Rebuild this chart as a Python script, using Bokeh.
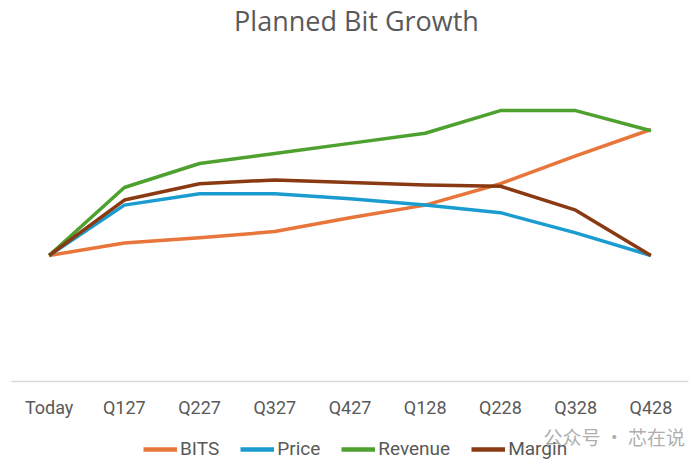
from bokeh.plotting import figure
from bokeh.models import Legend, LegendItem, Range1d, Label
from bokeh.layouts import column
from bokeh.embed import file_html
from bokeh.resources import INLINE

categories = ["Today", "Q127", "Q227", "Q327", "Q427", "Q128", "Q228", "Q328", "Q428"]
bits = [1.00, 1.10, 1.14, 1.19, 1.30, 1.40, 1.57, 1.79, 2.00]
price = [1.00, 1.40, 1.49, 1.49, 1.45, 1.40, 1.34, 1.18, 1.00]
revenue = [1.00, 1.54, 1.73, 1.81, 1.89, 1.97, 2.15, 2.15, 1.99]
margin = [1.00, 1.44, 1.57, 1.60, 1.58, 1.56, 1.55, 1.36, 1.00]
series_names = ["BITS", "Price", "Revenue", "Margin"]
colors = ["#E8753A", "#1A9CD0", "#4EA12F", "#8A3A12"]
title_text = "Planned Bit Growth"
watermark_text = "公众号 · 芯在说"
series = [bits, price, revenue, margin]

W = 700
p = figure(x_range=categories, y_range=Range1d(0, 3.024), width=W, height=420,
           output_backend="svg", toolbar_location=None,
           min_border_left=11, min_border_right=12, min_border_top=0, min_border_bottom=39)
p.title = None

for ys, c in zip(series, colors):
    p.line(categories, ys, line_color=c, line_width=3.5, line_join="round")

p.add_layout(Label(x=345, y=361, x_units="screen", y_units="screen", text=title_text,
                   text_font="Open Sans", text_font_size="27px", text_color="#595959",
                   text_align="center", text_baseline="alphabetic"))

p.yaxis.visible = False
p.xgrid.visible = False
p.ygrid.visible = False
p.outline_line_color = None
p.background_fill_color = "white"
p.border_fill_color = "white"
ax = p.xaxis[0]
ax.axis_line_color = "#D9D9D9"
ax.axis_line_width = 1.5
ax.major_tick_line_color = None
ax.minor_tick_line_color = None
ax.major_label_text_font = "Roboto"
ax.major_label_text_font_size = "18px"
ax.major_label_text_color = "#595959"
ax.major_label_standoff = 9

# legend strip below the chart (series drawn out of view, only their legend glyphs show)
q = figure(x_range=p.x_range, y_range=Range1d(-3, -2), width=W, height=45,
           output_backend="svg", toolbar_location=None, x_axis_type=None, y_axis_type=None,
           min_border_left=11, min_border_right=12, min_border_top=0, min_border_bottom=0)
q.title = None
q.xgrid.visible = False
q.ygrid.visible = False
q.outline_line_color = None
q.background_fill_color = "white"
q.border_fill_color = "white"

legend_renderers = []
for name, ys, c in zip(series_names, series, colors):
    lr = q.line(categories, ys, line_color=c, line_width=4.5)
    legend_renderers.append((name, lr))

legend = Legend(items=[LegendItem(label=n, renderers=[r]) for n, r in legend_renderers],
                orientation="horizontal", location=(132, 5),
                label_text_font="Roboto", label_text_font_size="19px",
                label_text_color="#595959", glyph_width=34, label_standoff=3,
                spacing=21, padding=0, margin=0, border_line_color=None,
                background_fill_alpha=0)
q.add_layout(legend, "center")

q.add_layout(Label(x=532, y=29, x_units="screen", y_units="screen",
                   text=watermark_text, text_font="Noto Sans CJK SC",
                   text_font_size="19px", text_color="#A9A9A9", text_alpha=0.95,
                   text_baseline="middle"))

layout = column(p, q, spacing=0)
open("out.html", "w").write(file_html(layout, INLINE))
